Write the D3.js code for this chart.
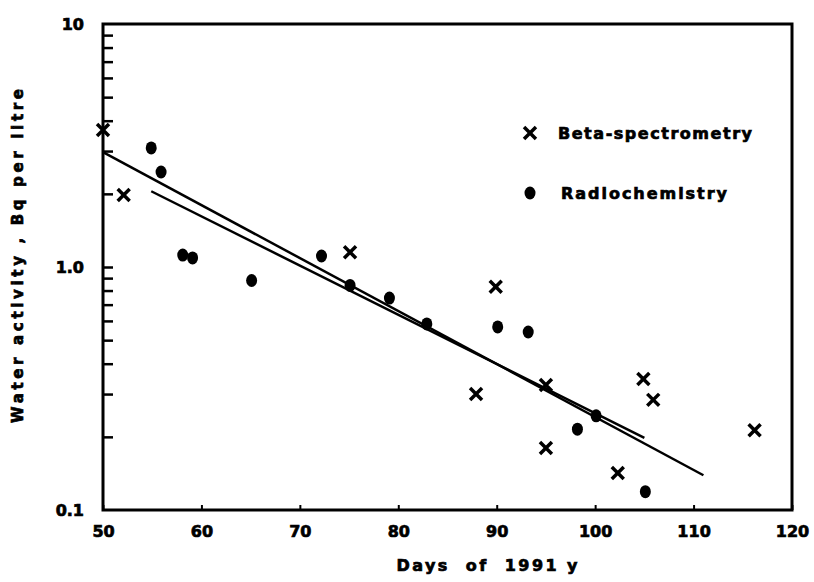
<!DOCTYPE html>
<html>
<head>
<meta charset="utf-8">
<script src="https://cdn.jsdelivr.net/npm/d3@7"></script>
<style>
	body { margin: 0; background: #fff; }
	svg { display: block; }
	text { font-family: "DejaVu Sans", sans-serif; font-weight: bold; fill: #000; stroke: #000; stroke-width: 0.7px; }
</style>
</head>
<body>
<svg id="chart" width="814" height="582"></svg>
<script>
(function(){
	'use strict';

	// Beta-spectrometry (crosses): day, Bq per litre
	var betaDays   = [50, 52.1, 75.1, 89.9, 87.9, 95, 95, 102.3, 104.9, 105.9, 116.2];
	var betaValues = [3.66, 1.98, 1.15, 0.83, 0.30, 0.327, 0.18, 0.142, 0.346, 0.284, 0.213];

	// Radiochemistry (dots)
	var radioDays   = [54.9, 55.9, 58.1, 59.1, 65.1, 72.2, 75.1, 79.1, 82.9, 90.1, 93.2, 98.2, 100.1, 105.1];
	var radioValues = [3.09, 2.46, 1.12, 1.09, 0.88, 1.11, 0.84, 0.745, 0.583, 0.567, 0.54, 0.215, 0.244, 0.119];

	// fitted lines: [day, value] at both ends
	var betaFit  = [[50, 2.97], [111, 0.139]];
	var radioFit = [[54.9, 2.05], [105, 0.198]];

	var xTicks = [50, 60, 70, 80, 90, 100, 110, 120];
	var yLabels = [0.1, 1, 10];
	var yLabelText = ["0.1", "1.0", "10"];
	var yMinor = [0.2, 0.3, 0.4, 0.5, 0.6, 0.7, 0.8, 0.9, 1, 2, 3, 4, 5, 6, 7, 8, 9];

	var W = 814, H = 582;
	var m = {top: 24, right: 22, bottom: 72, left: 103};
	var width = W - m.left - m.right;
	var height = H - m.top - m.bottom;

	var svg = d3.select("#chart");
	var g = svg.append("g").attr("transform", "translate(" + m.left + "," + m.top + ")");

	var x = d3.scaleLinear().domain([50, 120]).range([0, width]);
	var y = d3.scaleLog().domain([0.1, 10]).range([height, 0]);

	function plain(s){
		s.select(".domain").remove();
		s.attr("font-family", null).attr("font-size", null);
	}

	// minor ticks on the left, pointing inwards
	g.append("g")
		.call(d3.axisLeft(y).tickValues(yMinor).tickSize(-10).tickFormat(""))
		.call(plain)
		.selectAll("line").attr("stroke", "#000").attr("stroke-width", 2.5);

	// y labels
	g.append("g")
		.call(d3.axisLeft(y).tickValues(yLabels).tickSize(0).tickPadding(19)
			.tickFormat(function(d, i){ return yLabelText[i]; }))
		.call(plain)
		.selectAll("text").attr("font-size", 16);

	// x axis
	g.append("g")
		.attr("transform", "translate(0," + height + ")")
		.call(d3.axisBottom(x).tickValues(xTicks).tickSize(-5).tickPadding(16).tickFormat(d3.format("d")))
		.call(plain)
		.call(function(s){
			s.selectAll("line").attr("stroke", "#000").attr("stroke-width", 2);
			s.selectAll("text").attr("font-size", 16);
		});

	// frame
	g.append("rect")
		.attr("width", width).attr("height", height)
		.attr("fill", "none").attr("stroke", "#000").attr("stroke-width", 3);

	// fit lines
	var line = d3.line()
		.x(function(d){ return x(d[0]); })
		.y(function(d){ return y(d[1]); });
	[betaFit, radioFit].forEach(function(f){
		g.append("path").datum(f)
			.attr("d", line)
			.attr("fill", "none").attr("stroke", "#000").attr("stroke-width", 2.5);
	});

	var cross = d3.symbol(d3.symbolX, 95);

	// crosses
	g.append("g").selectAll("path")
		.data(betaDays)
		.enter().append("path")
		.attr("d", cross)
		.attr("transform", function(d, i){ return "translate(" + x(d) + "," + y(betaValues[i]) + ")"; })
		.attr("fill", "none").attr("stroke", "#000").attr("stroke-width", 3.5);

	// dots
	g.append("g").selectAll("ellipse")
		.data(radioDays)
		.enter().append("ellipse")
		.attr("cx", function(d){ return x(d); })
		.attr("cy", function(d, i){ return y(radioValues[i]); })
		.attr("rx", 5.5).attr("ry", 6.5)
		.attr("fill", "#000");

	// legend
	var legend = svg.append("g").attr("transform", "translate(530,133)");
	legend.append("path").attr("d", cross)
		.attr("fill", "none").attr("stroke", "#000").attr("stroke-width", 3.5);
	legend.append("text").attr("x", 28).attr("dy", "0.35em")
		.attr("font-size", 16).attr("textLength", 194).attr("lengthAdjust", "spacing")
		.text("Beta-spectrometry");
	legend.append("ellipse").attr("cy", 60).attr("rx", 5.5).attr("ry", 6.5).attr("fill", "#000");
	legend.append("text").attr("x", 31).attr("y", 60).attr("dy", "0.35em")
		.attr("font-size", 16).attr("textLength", 166).attr("lengthAdjust", "spacing")
		.text("Radiochemistry");

	// axis titles
	svg.append("text")
		.attr("x", 487).attr("y", 571)
		.attr("text-anchor", "middle")
		.attr("font-size", 16).attr("textLength", 181).attr("lengthAdjust", "spacing")
		.attr("xml:space", "preserve")
		.text("Days  of  1991 y");

	svg.append("text")
		.attr("transform", "translate(23,256) rotate(-90)")
		.attr("text-anchor", "middle")
		.attr("font-size", 15).attr("textLength", 334).attr("lengthAdjust", "spacing")
		.attr("xml:space", "preserve")
		.text("Water activity , Bq per litre");
}());
</script>
</body>
</html>
